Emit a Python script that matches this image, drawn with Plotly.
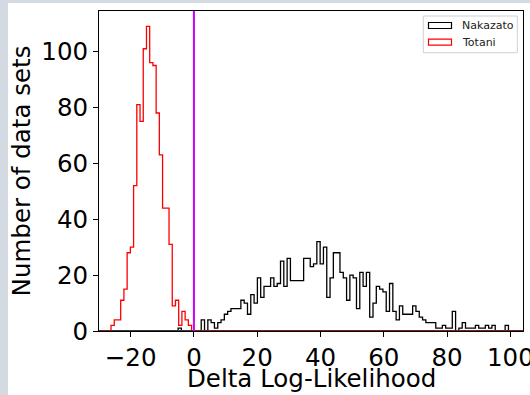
import numpy as np
import plotly.graph_objects as go

# ---------------- data ----------------
series_names = ["Nakazato", "Totani"]

nakazato_counts = [
    1, 0, 0, 0, 0, 0, 0, 4, 0, 4,
    3, 1, 3, 4, 6, 7, 8, 8, 8, 11,
    10, 6, 13, 10, 19, 12, 16, 16, 19, 16,
    17, 25, 16, 26, 18, 18, 18, 18, 26, 26,
    23, 24, 32, 24, 30, 12, 19, 28, 28, 21,
    19, 11, 20, 19, 8, 21, 16, 21, 5, 10,
    16, 15, 14, 7, 17, 7, 4, 9, 6, 6,
    6, 9, 7, 5, 4, 3, 3, 3, 1, 1,
    2, 1, 1, 7, 0, 1, 3, 1, 1, 1,
    2, 1, 1, 2, 1, 2, 0, 0, 0, 2,
]
nakazato_range = (-5.0, 99.4)

totani_counts = [
    2, 4, 4, 11, 15, 28, 30, 52, 81, 75,
    101, 109, 96, 95, 78, 63, 44, 44, 31, 9,
    11, 2, 7, 4, 2,
]
totani_range = (-26.2, -0.74)

threshold_x = [0]

x_ticks = [-20, 0, 20, 40, 60, 80, 100]
y_ticks = [0, 20, 40, 60, 80, 100]
x_range = [-30.0, 104.0]
y_range = [0, 114.5]
x_label = "Delta Log-Likelihood"
y_label = "Number of data sets"

# ---------------- helpers ----------------
def step_xy(counts, lo, hi):
    edges = np.linspace(lo, hi, len(counts) + 1)
    x = np.concatenate([[edges[0]], edges])
    y = np.concatenate([[0], counts, [0]])
    return x, y

FONT = "DejaVu Sans"
FS = 24.5
colors = {"Nakazato": "black", "Totani": "#ff0000"}

fig = go.Figure()
for name, counts, rng in [
    ("Nakazato", nakazato_counts, nakazato_range),
    ("Totani", totani_counts, totani_range),
]:
    x, y = step_xy(counts, *rng)
    fig.add_trace(go.Scatter(
        x=x, y=y, mode="lines", name=name,
        line=dict(color=colors[name], width=1.3, shape="hv"),
        showlegend=False, hoverinfo="skip",
    ))

shapes = []
W, H = 530, 395
L, R, T, B = 99, 523, 11, 331
def px2paper_x(px):
    return (px - L) / (R - L)
def px2paper_y(py):
    return (B - py) / (B - T)
border_col = "#d3dae2"
shapes.append(dict(type="rect", xref="paper", yref="paper",
                   x0=px2paper_x(0), x1=px2paper_x(8), y0=px2paper_y(W), y1=px2paper_y(0),
                   fillcolor=border_col, line=dict(width=0), layer="below"))
shapes.append(dict(type="rect", xref="paper", yref="paper",
                   x0=px2paper_x(0), x1=px2paper_x(W), y0=px2paper_y(3), y1=px2paper_y(0),
                   fillcolor=border_col, line=dict(width=0), layer="below"))

# baseline at y=0 (dark red), dark grey under the Totani span
shapes.append(dict(type="line", xref="paper", yref="y", x0=0, x1=1, y0=0, y1=0,
                   line=dict(color="#7d1f1f", width=2), layer="above"))
shapes.append(dict(type="line", xref="x", yref="y",
                   x0=totani_range[0], x1=threshold_x[0], y0=0, y1=0,
                   line=dict(color="#3a3a3a", width=2), layer="above"))
for xv in threshold_x:
    shapes.append(dict(type="line", xref="x", yref="paper", x0=xv, x1=xv, y0=0, y1=1,
                       line=dict(color="#cc00ff", width=2), layer="above"))

# manual matplotlib-style legend
shapes.append(dict(type="rect", xref="paper", yref="paper",
                   x0=px2paper_x(423.3), x1=px2paper_x(517.3),
                   y0=px2paper_y(52.7), y1=px2paper_y(16),
                   fillcolor="rgba(255,255,255,0.8)", line=dict(color="#d0d0d0", width=1),
                   layer="above"))
annotations = []
leg_rows = [(series_names[0], 25.5), (series_names[1], 42.2)]
for name, yc in leg_rows:
    shapes.append(dict(type="rect", xref="paper", yref="paper",
                       x0=px2paper_x(428.5), x1=px2paper_x(451.5),
                       y0=px2paper_y(yc + 3), y1=px2paper_y(yc - 3),
                       fillcolor="rgba(0,0,0,0)", line=dict(color=colors[name], width=1.2),
                       layer="above"))
    annotations.append(dict(text=name, xref="paper", yref="paper",
                            x=px2paper_x(460), y=px2paper_y(yc),
                            xanchor="left", yanchor="middle", showarrow=False,
                            font=dict(family=FONT, size=11, color="#222222")))

# x-axis title placed as in the reference
annotations.append(dict(text=x_label, xref="paper", yref="paper",
                        x=0.5, y=px2paper_y(378.5), xanchor="center", yanchor="middle",
                        showarrow=False, font=dict(family=FONT, size=FS, color="black")))

axis_common = dict(
    showgrid=False, zeroline=False, showline=True, mirror=True,
    linecolor="black", linewidth=1, ticks="outside", ticklen=5, tickwidth=1,
    tickcolor="black", tickfont=dict(family=FONT, size=FS, color="black"),
    automargin=False, ticklabeloverflow="allow",
)

fig.update_layout(
    width=W, height=H,
    margin=dict(l=L, r=W - R, t=T, b=H - B),
    paper_bgcolor="white", plot_bgcolor="white",
    showlegend=False,
    shapes=shapes, annotations=annotations,
    font=dict(family=FONT, color="black"),
    xaxis=dict(range=x_range, tickvals=x_ticks, **axis_common),
    yaxis=dict(range=y_range, tickvals=y_ticks, **axis_common,
               title=dict(text=y_label, font=dict(family=FONT, size=FS, color="black"), standoff=3)),
)

fig.write_html(
    "out.html",
    config={"displayModeBar": False, "staticPlot": True},
    post_script="document.body.style.margin='0';document.body.style.overflow='hidden';",
)
